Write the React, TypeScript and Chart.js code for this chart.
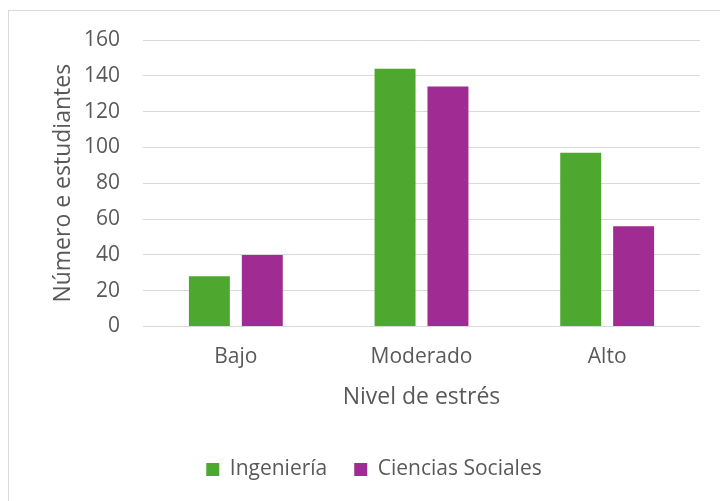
import { useEffect, useRef } from "react";
import { Chart, registerables } from "chart.js";

Chart.register(...registerables);

// Stress level categories and student counts per faculty
const categories = ["Bajo", "Moderado", "Alto"];
const ingenieria = [28, 144, 97];
const cienciasSociales = [40, 134, 56];

const yMin = 0;
const yMax = 160;
const yStep = 20;

const FONT = "'Open Sans', 'Noto Sans', sans-serif";
const TEXT = "#595959";
const GRID = "#d9d9d9";

export default function App() {
  const canvasRef = useRef<HTMLCanvasElement | null>(null);

  useEffect(() => {
    if (!canvasRef.current) return;
    const chart = new Chart(canvasRef.current, {
      type: "bar",
      data: {
        labels: categories,
        datasets: [
          {
            label: "Ingeniería",
            data: ingenieria,
            backgroundColor: "#4ea72e",
            categoryPercentage: 0.57,
            barPercentage: 0.774,
          },
          {
            label: "Ciencias Sociales",
            data: cienciasSociales,
            backgroundColor: "#a02b93",
            categoryPercentage: 0.57,
            barPercentage: 0.774,
          },
        ],
      },
      options: {
        responsive: false,
        animation: false,
        layout: { padding: { top: 29, left: 39, right: 20, bottom: 20 } },
        plugins: {
          tooltip: { enabled: false },
          legend: {
            position: "bottom",
            labels: {
              boxWidth: 13,
              boxHeight: 13,
              padding: 27,
              color: TEXT,
              font: { family: FONT, size: 21 },
            },
          },
        },
        scales: {
          x: {
            grid: { display: false },
            border: { display: false },
            ticks: {
              color: TEXT,
              font: { family: FONT, size: 21 },
              padding: 10,
              maxRotation: 0,
            },
            title: {
              display: true,
              text: "Nivel de estrés",
              color: TEXT,
              font: { family: FONT, size: 23 },
              padding: { top: 0, bottom: 21 },
            },
            afterFit: (scale: any) => {
              scale.height = 105.5;
            },
          },
          y: {
            min: yMin,
            max: yMax,
            grid: { color: GRID, lineWidth: 1, drawTicks: false },
            border: { display: false },
            ticks: {
              stepSize: yStep,
              color: TEXT,
              font: { family: FONT, size: 21 },
              padding: 23,
            },
            title: {
              display: true,
              text: "Número e estudiantes",
              color: TEXT,
              font: { family: FONT, size: 23 },
              padding: { top: 2, bottom: 0 },
            },
            afterFit: (scale: any) => {
              scale.width = 95;
              // plot edges are set by the layout padding alone
              scale.paddingTop = 0;
              scale.paddingBottom = 0;
            },
          },
        },
      },
    });
    return () => chart.destroy();
  }, []);

  return (
    <div
      style={{
        position: "fixed",
        left: 8,
        top: 10,
        width: 712,
        height: 500,
        borderTop: "1px solid #d9d9d9",
        borderLeft: "1px solid #d9d9d9",
        boxSizing: "border-box",
        background: "#ffffff",
      }}
    >
      <canvas ref={canvasRef} width={711} height={499} style={{ display: "block" }} />
    </div>
  );
}
